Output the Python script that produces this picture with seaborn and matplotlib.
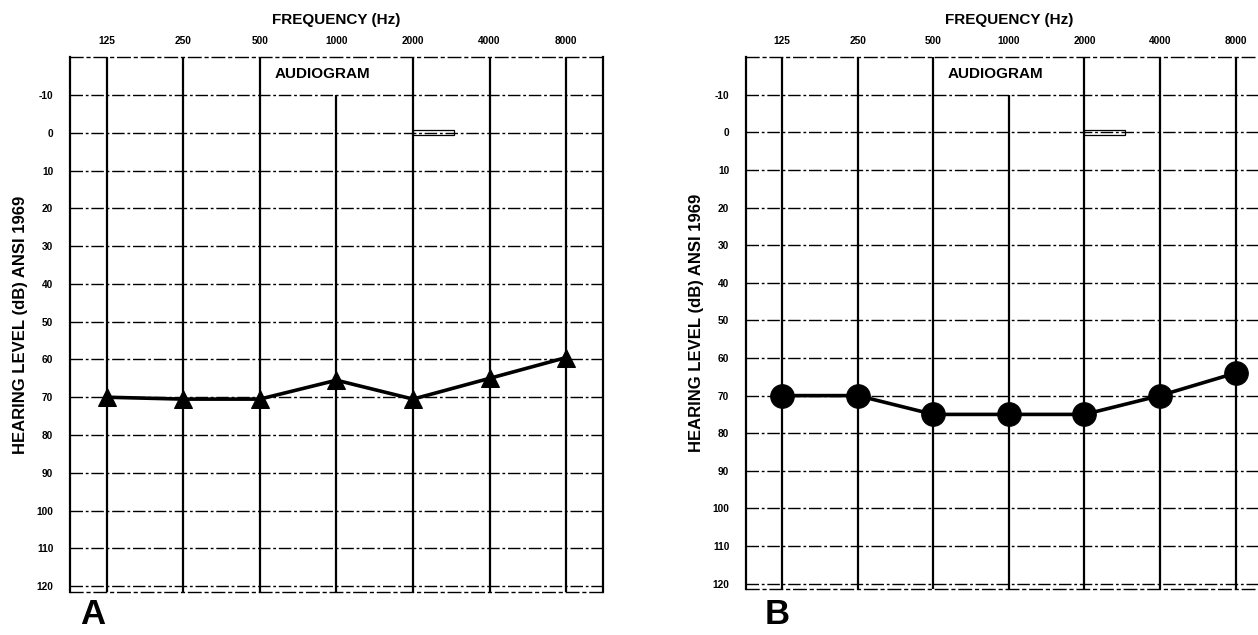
import matplotlib
matplotlib.use("Agg")
import matplotlib.pyplot as plt
import seaborn as sns
import pandas as pd
from matplotlib.patches import Rectangle

# --- data ---
freqs = [125, 250, 500, 1000, 2000, 4000, 8000]
freq_labels = ["125", "250", "500", "1000", "2000", "4000", "8000"]
levels_a = [70, 70.5, 70.5, 65.5, 70.5, 65, 59.5]
levels_b = [70, 70, 75, 75, 75, 70, 64]
db_ticks = [-10, 0, 10, 20, 30, 40, 50, 60, 70, 80, 90, 100, 110, 120]

sns.set_theme(style="white")
plt.rcParams['font.family'] = ['Liberation Sans', 'DejaVu Sans']
plt.rcParams['font.weight'] = 'bold'
plt.rcParams['text.color'] = 'black'
plt.rcParams['axes.labelcolor'] = 'black'
plt.rcParams['xtick.color'] = 'black'
plt.rcParams['ytick.color'] = 'black'

fig = plt.figure(figsize=(12.58, 6.35), dpi=100)
ax_a = fig.add_axes([0.0556, 0.068, 0.4237, 0.842])
ax_b = fig.add_axes([0.593, 0.072, 0.4180, 0.838])

grid_dash = (0, (9, 2, 2, 2))


def draw_audiogram(ax, levels, marker, msize, letter, letter_x):
    df = pd.DataFrame({'freq': freqs, 'level': levels})
    ax.set_xscale('log', base=2)
    ax.set_xlim(125 / 2 ** 0.48, 8000 * 2 ** 0.48)
    ax.set_ylim(121.5, -20)

    # vertical octave lines; 1000 Hz stops under the AUDIOGRAM label
    tops = [-20 if f != 1000 else -10 for f in freqs]
    ax.vlines(freqs, tops, 121.5, colors='black', linewidth=1.6, zorder=1)
    ax.hlines(db_ticks, 125 / 2 ** 0.48, 8000 * 2 ** 0.48, colors='black',
              linewidth=1.0, linestyles=[grid_dash], zorder=1)
    ax.add_patch(Rectangle((2000, -0.7), 900, 1.4, fill=False,
                           edgecolor='black', linewidth=0.9, zorder=2))

    sns.lineplot(data=df, x='freq', y='level', ax=ax, color='black',
                 linewidth=2.6, marker=marker, markersize=msize,
                 markeredgecolor='black', markerfacecolor='black', zorder=3)

    ax.xaxis.tick_top()
    ax.xaxis.set_label_position('top')
    ax.set_xticks(freqs)
    ax.set_xticklabels(freq_labels, fontsize=7.3, fontweight='bold')
    ax.minorticks_off()
    ax.set_yticks(db_ticks)
    ax.set_yticklabels([str(v) for v in db_ticks], fontsize=7.3, fontweight='bold')
    ax.tick_params(axis='x', length=0, pad=8)
    ax.tick_params(axis='y', length=0, pad=12)
    ax.set_xlabel('FREQUENCY (Hz)', fontsize=11, fontweight='bold', labelpad=9)
    ax.set_ylabel('HEARING LEVEL (dB) ANSI 1969', fontsize=12, fontweight='bold',
                  labelpad=6)
    ax.grid(False)

    ax.text(880, -15.5, 'AUDIOGRAM', ha='center', va='center', fontsize=11,
            fontweight='bold', zorder=4)

    for side in ['left', 'right']:
        ax.spines[side].set_color('black')
        ax.spines[side].set_linewidth(1.6)
    for side in ['top', 'bottom']:
        ax.spines[side].set_color('black')
        ax.spines[side].set_linewidth(1.0)
        ax.spines[side].set_linestyle((0, (9, 3, 2, 3)))

    fig.text(letter_x, 0.018, letter, fontsize=25, fontweight='bold',
             ha='left', va='baseline')


draw_audiogram(ax_a, levels_a, '^', 13, 'A', 0.064)
draw_audiogram(ax_b, levels_b, 'o', 17, 'B', 0.608)

fig.savefig('out.png', dpi=100)
